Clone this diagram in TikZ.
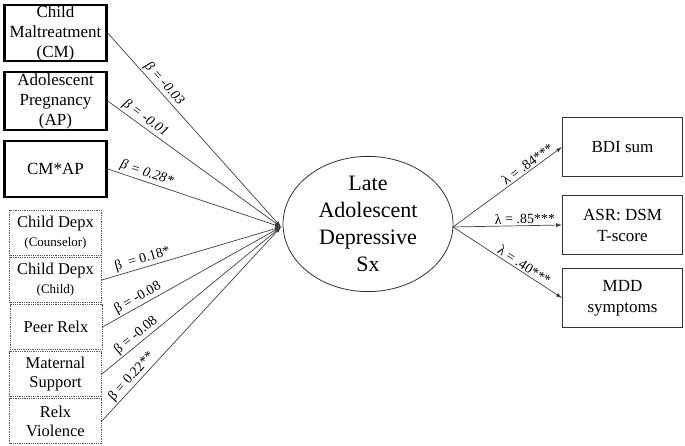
\documentclass[tikz,border=0pt]{standalone}
\usepackage{fontspec}
\setmainfont{Liberation Serif}
\usetikzlibrary{shapes.geometric,arrows.meta}
\begin{document}
\begin{tikzpicture}[x=1pt, y=-1pt,
  predictor/.style={draw, line width=2.4pt, minimum width=102pt, minimum height=56pt, inner sep=0pt, align=center, font=\fontsize{17}{20}\selectfont},
  control/.style={draw=gray!70!black, densely dotted, line width=0.8pt, minimum width=92pt, minimum height=45pt, inner sep=0pt, align=center, font=\fontsize{16.5}{19}\selectfont},
  indicator/.style={draw=gray!40!black, line width=0.8pt, minimum width=120pt, minimum height=59pt, inner sep=0pt, align=center, font=\fontsize{17}{21}\selectfont},
  latent/.style={ellipse, draw=gray!40!black, line width=0.8pt, minimum width=170pt, minimum height=133pt, inner sep=0pt, align=center, font=\fontsize{22}{27}\selectfont},
  path/.style={draw=gray!50!black, line width=0.7pt, -{Latex[length=6pt,width=4pt]}},
  weight/.style={sloped, above, inner sep=1.5pt, font=\fontsize{14}{16}\selectfont}]
\useasboundingbox (0,0) rectangle (685,446);

% Predictors
\node[predictor] (cm) at (55.5,33) {Child\\Maltreatment\\(CM)};
\node[predictor, minimum height=58pt] (ap) at (55.5,101) {Adolescent\\Pregnancy\\(AP)};
\node[predictor] (cmap) at (55.5,169) {CM*AP};

% Covariates
\node[control] (dpc) at (55.5,233) {Child Depx\\{\fontsize{13}{15}\selectfont (Counselor)}};
\node[control] (dpk) at (55.5,280) {Child Depx\\{\fontsize{13}{15}\selectfont (Child)}};
\node[control] (peer) at (56,327) {Peer Relx};
\node[control] (mat) at (55.5,374) {Maternal\\Support};
\node[control] (viol) at (55.5,421) {Relx\\Violence};

% Latent factor and indicators
\node[latent] (dep) at (368,224) {Late\\Adolescent\\Depressive\\Sx};
\coordinate (hub) at (281,227);
\coordinate (out) at (453,227);
\node[indicator] (bdi) at (622.5,147) {BDI sum};
\node[indicator] (asr) at (622.5,225) {ASR: DSM\\T-score};
\node[indicator] (mdd) at (622.5,298) {MDD\\symptoms};

% Paths
\draw[path] (cm.east) -- node[weight, pos=0.29] {\itshape β = -0.03} (hub);
\draw[path] (ap.east) -- node[weight, pos=0.19] {\itshape β = -0.01} (hub);
\draw[path] (cmap.east) -- node[weight, pos=0.21] {\itshape β = 0.28*} (hub);
\draw[path] (dpk.east) -- node[weight, pos=0.24] {β\ \ = 0.18*} (hub);
\draw[path] (peer.east) -- node[weight, pos=0.22] {β = -0.08} (hub);
\draw[path] (mat.east) -- node[weight, pos=0.22] {β = -0.08} (hub);
\draw[path] (viol.east) -- node[weight, pos=0.2] {β = 0.22**} (hub);

\draw[path] (out) -- node[weight, pos=0.72] {λ = .84***} (bdi.west);
\draw[path] (out) -- node[weight, pos=0.66] {λ = .85***} (asr.west);
\draw[path] (out) -- node[weight, pos=0.62] {λ = .40***} (mdd.west);
\end{tikzpicture}
\end{document}
